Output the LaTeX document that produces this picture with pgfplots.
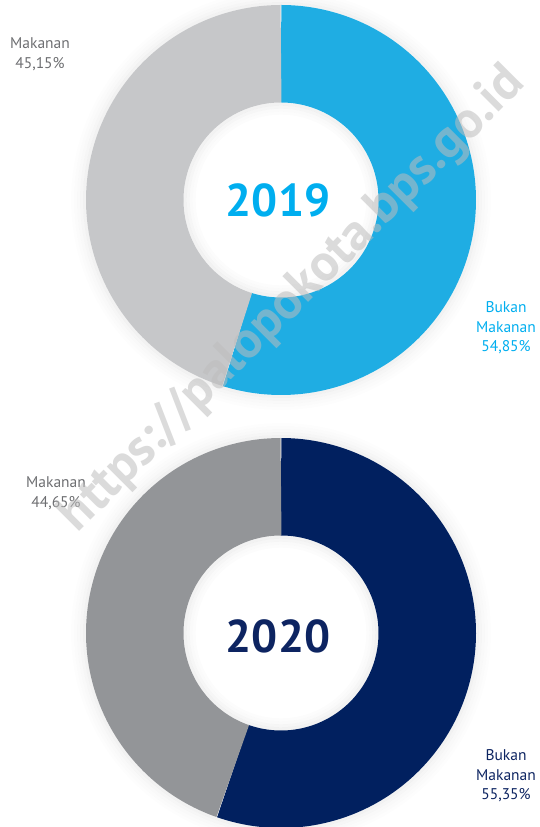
\documentclass[border=0pt]{standalone}
\usepackage{pgfplots}
\pgfplotsset{compat=1.18}
\usepackage{pgfplotstable}
\usepackage{fontspec}
\setmainfont{PT Sans}
\definecolor{lgrey}{HTML}{C6C7C9}
\definecolor{dgrey}{HTML}{939598}
\definecolor{sky}{HTML}{1FADE3}
\definecolor{skytxt}{HTML}{00AEEF}
\definecolor{navy}{HTML}{01205F}
\definecolor{navytxt}{HTML}{0D2461}
\definecolor{labgrey}{HTML}{6D6E71}
\definecolor{wm}{HTML}{BDBDBD}

\pgfplotstableread{
year makanan bukan cy
2019 45.15 54.85 627
2020 44.65 55.35 194
}\shares

\pgfplotstablegetelem{0}{bukan}\of\shares \let\bA\pgfplotsretval
\pgfplotstablegetelem{1}{bukan}\of\shares \let\bB\pgfplotsretval
\pgfmathsetmacro\aA{90-3.6*\bA}
\pgfmathsetmacro\aB{90-3.6*\bB}

% cy, radius, width, opacity
\newcommand{\shring}[4]{\addplot[draw=black, opacity=#4, line width=#3pt, domain=0:360, samples=120, forget plot] ({281+#2*cos(x)},{#1+#2*sin(x)});}
% cy, from, to, colour
\newcommand{\seg}[4]{\addplot[draw=#4, line width=97.5pt, domain=#2:#3, samples=200, forget plot] ({281+146.25*cos(x)},{#1+146.25*sin(x)});}

\begin{document}
\begin{tikzpicture}
\begin{axis}[
  hide axis, scale only axis, width=540pt, height=827pt,
  xmin=0, xmax=540, ymin=0, ymax=827, clip=false,
]
% outer shadows
\shring{627}{196.5}{3}{0.05}
\shring{627}{199.5}{3}{0.035}
\shring{627}{202.5}{3}{0.025}
\shring{627}{205.5}{3}{0.015}
\shring{627}{208.5}{3}{0.008}
\shring{194}{196.5}{3}{0.05}
\shring{194}{199.5}{3}{0.035}
\shring{194}{202.5}{3}{0.025}
\shring{194}{205.5}{3}{0.015}
\shring{194}{208.5}{3}{0.008}
% 2019
\seg{627}{\aA}{90}{sky}
\seg{627}{-270}{\aA}{lgrey}
% 2020
\seg{194}{\aB}{90}{navy}
\seg{194}{-270}{\aB}{dgrey}
% inner shadows
\shring{627}{95.8}{3}{0.05}
\shring{627}{92.8}{3}{0.035}
\shring{627}{89.8}{3}{0.02}
\shring{627}{86.8}{3}{0.01}
\shring{194}{95.8}{3}{0.05}
\shring{194}{92.8}{3}{0.035}
\shring{194}{89.8}{3}{0.02}
\shring{194}{86.8}{3}{0.01}

% centre years
\node[font=\fontsize{46}{50}\selectfont\bfseries, text=skytxt] at (axis cs:278,627) {2019};
\node[font=\fontsize{46}{50}\selectfont\bfseries, text=navytxt] at (axis cs:278,191) {2020};

% labels
\node[font=\fontsize{15.5}{19.5}\selectfont, text=labgrey, align=center] at (axis cs:40,773) {Makanan\\45,15\%};
\node[font=\fontsize{15.5}{19.5}\selectfont, text=labgrey, align=center] at (axis cs:56,334) {Makanan\\44,65\%};
\node[font=\fontsize{15.5}{19.5}\selectfont, text=skytxt, align=center] at (axis cs:506,499) {Bukan\\Makanan\\54,85\%};
\node[font=\fontsize{15.5}{19.5}\selectfont, text=navytxt, align=center] at (axis cs:506,51) {Bukan\\Makanan\\55,35\%};

% watermark
\node[font=\fontsize{52}{56}\selectfont\bfseries, text=wm, opacity=0.55, rotate=45] at (axis cs:293,527) {https://palopokota.bps.go.id};
\end{axis}
\pgfresetboundingbox
\path[use as bounding box] (0,0) rectangle (540pt,827pt);
\end{tikzpicture}
\end{document}
